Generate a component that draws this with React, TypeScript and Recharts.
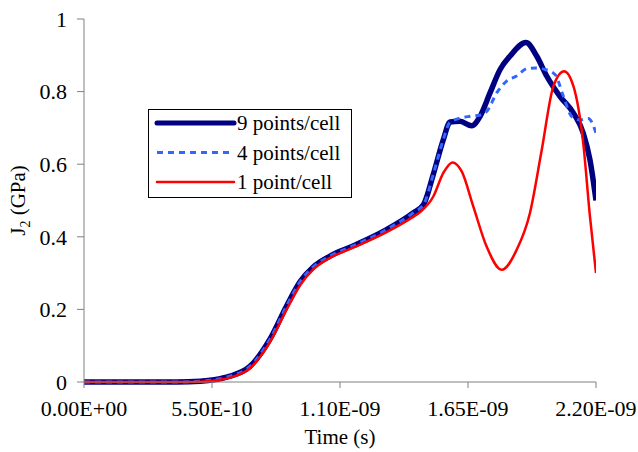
import React from "react";
import { LineChart, Line, XAxis, YAxis } from "recharts";

// time in units of 1e-10 s
const t9 = [0, 2, 4, 5, 5.6, 6.27, 7.13, 7.99, 8.71, 9.28, 9.85, 10.57, 11.56, 13.0, 14.14, 14.6, 15.0, 15.44, 15.73, 16.16, 16.66, 17.02, 17.45, 17.88, 18.31, 18.99, 19.45, 19.88, 20.45, 21.03, 21.45, 21.74, 22.0];
const v9 = [0, 0, 0, 0.002, 0.006, 0.016, 0.043, 0.118, 0.21, 0.276, 0.317, 0.347, 0.375, 0.42, 0.466, 0.49, 0.57, 0.668, 0.716, 0.718, 0.706, 0.732, 0.797, 0.861, 0.898, 0.935, 0.898, 0.843, 0.787, 0.741, 0.686, 0.612, 0.5];

const t4 = [0, 2, 4, 5, 5.6, 6.27, 7.13, 7.99, 8.71, 9.28, 9.85, 10.57, 11.56, 13.0, 14.14, 14.6, 15.0, 15.44, 15.73, 16.59, 17.0, 17.3, 17.74, 18.16, 18.59, 19.02, 19.4, 19.81, 20.24, 20.6, 20.95, 21.31, 21.67, 22.0];
const v4 = [0, 0, 0, 0.002, 0.006, 0.016, 0.043, 0.118, 0.21, 0.276, 0.317, 0.347, 0.375, 0.42, 0.466, 0.49, 0.57, 0.668, 0.716, 0.732, 0.735, 0.745, 0.797, 0.829, 0.843, 0.863, 0.865, 0.861, 0.847, 0.787, 0.732, 0.722, 0.726, 0.686];

const t1 = [0, 2, 4, 5, 5.6, 6.27, 7.13, 7.99, 8.71, 9.28, 9.85, 10.57, 11.56, 13.0, 14.14, 14.44, 15.01, 15.44, 15.83, 16.23, 16.73, 17.3, 17.95, 18.59, 19.16, 19.67, 20.17, 20.63, 21.03, 21.45, 21.74, 22.0];
const v1 = [0, 0, 0, 0.001, 0.004, 0.012, 0.038, 0.11, 0.2, 0.266, 0.31, 0.342, 0.37, 0.413, 0.455, 0.468, 0.511, 0.576, 0.605, 0.58, 0.483, 0.373, 0.309, 0.364, 0.465, 0.64, 0.815, 0.856, 0.815, 0.659, 0.456, 0.3];

const xTicks = [0, 5.5, 11, 16.5, 22];
const xTickLabels = ["0.00E+00", "5.50E-10", "1.10E-09", "1.65E-09", "2.20E-09"];
const yTicks = [0, 0.2, 0.4, 0.6, 0.8, 1];
const yTickLabels = ["0", "0.2", "0.4", "0.6", "0.8", "1"];

const seriesNames = ["9 points/cell", "4 points/cell", "1 point/cell"];
const seriesColors = ["#000080", "#3366FF", "#FF0000"];

const build = (ts: number[], vs: number[]) => ts.map((t, i) => ({ t, v: vs[i] }));
const d9 = build(t9, v9);
const d4 = build(t4, v4);
const d1 = build(t1, v1);

const FONT = "Liberation Serif, serif";
const AXIS = "#808080";
const TXT = { fontFamily: FONT, fontSize: 21 };
const TICK = { fontFamily: FONT, fontSize: 22 };

const LegendBox = () => {
  const rows = [
    { name: seriesNames[0], color: seriesColors[0], w: 5, dash: undefined as string | undefined },
    { name: seriesNames[1], color: seriesColors[1], w: 3, dash: "6 5" },
    { name: seriesNames[2], color: seriesColors[2], w: 2.5, dash: undefined },
  ];
  return (
    <svg width={204} height={89} style={{ display: "block", position: "absolute", left: 148, top: 109 }}>
      <rect x={0.5} y={0.5} width={203} height={88} fill="#fff" stroke="#000" strokeWidth={1} />
      {rows.map((r, i) => (
        <g key={r.name}>
          <line x1={9} x2={86} y1={14 + i * 29.5} y2={14 + i * 29.5} stroke={r.color} strokeWidth={r.w} strokeDasharray={r.dash} strokeLinecap={r.dash ? "butt" : "round"} />
          <text x={89} y={14 + i * 29.5 + 7} style={TXT} fill="#000">{r.name}</text>
        </g>
      ))}
    </svg>
  );
};

const YLabel = (props: any) => {
  const vb = props.viewBox || {};
  const cx = 25;
  const cy = vb.y + vb.height / 2;
  return (
    <text transform={`rotate(-90, ${cx}, ${cy})`} x={cx} y={cy} textAnchor="middle" style={TXT} fill="#000">
      <tspan>J</tspan>
      <tspan style={{ fontSize: 14 }} dy={5}>2</tspan>
      <tspan dy={-5}> (GPa)</tspan>
    </text>
  );
};

const XLabel = (props: any) => {
  const vb = props.viewBox || {};
  return (
    <text x={vb.x + vb.width / 2} y={444} textAnchor="middle" style={TXT} fill="#000">Time (s)</text>
  );
};

export default function App() {
  return (
    <div style={{ position: "absolute", left: 0, top: 0, width: 638, height: 452, background: "#fff", fontFamily: FONT }}>
      <LineChart width={638} height={452} margin={{ top: 19, right: 42, left: 24, bottom: 30 }}>
        <XAxis
          type="number"
          dataKey="t"
          domain={[0, 22]}
          ticks={xTicks}
          tickFormatter={(v: number) => xTickLabels[xTicks.indexOf(v)]}
          height={40}
          stroke={AXIS}
          tickSize={6}
          tickMargin={12}
          tick={{ fill: "#000", ...TICK }}
          interval={0}
          allowDataOverflow
          label={<XLabel />}
        />
        <YAxis
          type="number"
          dataKey="v"
          domain={[0, 1]}
          ticks={yTicks}
          tickFormatter={(v: number) => yTickLabels[yTicks.indexOf(v)]}
          width={60}
          stroke={AXIS}
          tickSize={7}
          tickMargin={10}
          tick={{ fill: "#000", ...TICK }}
          interval={0}
          label={<YLabel />}
        />
        <Line data={d9} dataKey="v" name={seriesNames[0]} type="monotone" stroke={seriesColors[0]} strokeWidth={5.5} dot={false} isAnimationActive={false} />
        <Line data={d4} dataKey="v" name={seriesNames[1]} type="monotone" stroke={seriesColors[1]} strokeWidth={3} strokeDasharray="6 5" dot={false} isAnimationActive={false} />
        <Line data={d1} dataKey="v" name={seriesNames[2]} type="monotone" stroke={seriesColors[2]} strokeWidth={2.5} dot={false} isAnimationActive={false} />
      </LineChart>
      <LegendBox />
    </div>
  );
}
